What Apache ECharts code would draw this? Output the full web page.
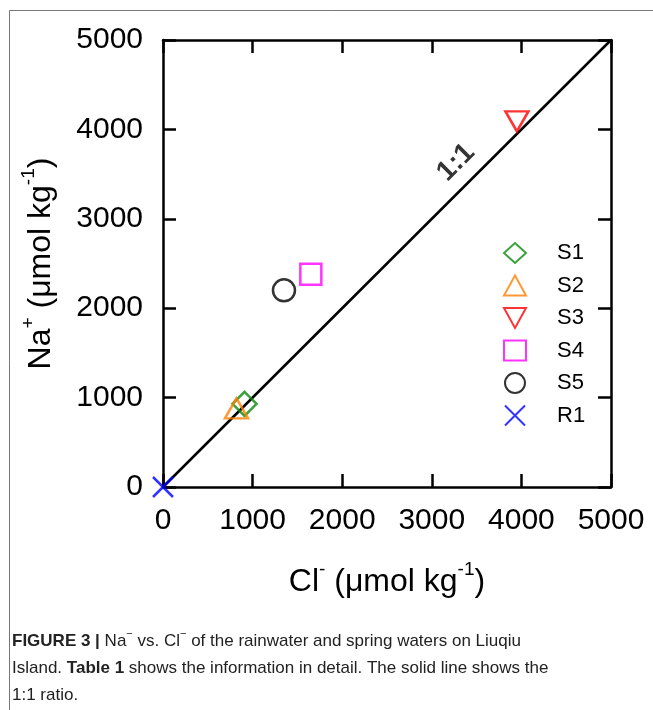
<!DOCTYPE html>
<html>
<head>
<meta charset="utf-8">
<script src="https://cdn.jsdelivr.net/npm/echarts@6/dist/echarts.min.js"></script>
<style>html,body{margin:0;padding:0;background:#fff}#c{width:653px;height:710px}</style>
</head>
<body>
<div id="c"></div>
<script>
// ---- data ----
const sampleNames = ['S1', 'S2', 'S3', 'S4', 'S5', 'R1'];
const clValues = [910, 820, 3950, 1650, 1350, 0];
const naValues = [930, 880, 4090, 2380, 2200, 0];
const sampleColors = ['#0a8a0a', '#ff8000', '#ff0000', '#ff00ff', '#000000', '#0000ff'];
const sampleSymbols = ['diamond', 'path://M5,0L10,9L0,9Z', 'path://M0,0L10,0L5,9Z', 'rect', 'circle', 'path://M0,0L10,10M10,0L0,10'];
const sampleSizes = [[24, 24], [23, 20], [23, 20], [21, 21], [22, 22], [20, 20]];
const oneToOne = [[0, 0], [5000, 5000]];
const ratioLabelPos = [[3270, 3630]];
const axisMin = 0, axisMax = 5000, axisStep = 1000;

const chart = echarts.init(document.getElementById('c'));
const font = 'Liberation Sans, Arial, sans-serif';

const scatterSeries = sampleNames.map((n, i) => ({
  name: n,
  type: 'scatter',
  data: [[clValues[i], naValues[i]]],
  symbol: sampleSymbols[i],
  symbolSize: sampleSizes[i],
  itemStyle: { color: 'rgba(0,0,0,0)', borderColor: sampleColors[i], borderWidth: 2.5 },
  emphasis: { disabled: true },
  z: 5
}));

const supRich = {
  n: { fontSize: 32, fontFamily: font, color: '#000', lineHeight: 38, verticalAlign: 'bottom' },
  s: { fontSize: 19, fontFamily: font, color: '#000', lineHeight: 38, verticalAlign: 'top' }
};

const tickStyle = { inside: true, length: 13, lineStyle: { color: '#000', width: 2.5 } };
const lineStyle = { onZero: false, lineStyle: { color: '#000', width: 2.5 } };
const labelFmt = v => String(v);

const option = {
  animation: false,
  backgroundColor: '#fff',
  grid: { left: 163, right: 42, top: 40, height: 447 },
  legend: {
    orient: 'vertical',
    left: 498, top: 237,
    itemWidth: 22, itemHeight: 20, itemGap: 10.5,
    data: sampleNames,
    textStyle: { fontSize: 22, fontFamily: font, color: '#000', padding: [0, 0, 0, 26] }
  },
  xAxis: [{
    type: 'value', min: axisMin, max: axisMax, interval: axisStep,
    position: 'bottom',
    axisLine: lineStyle,
    axisTick: tickStyle,
    axisLabel: { fontSize: 30, fontFamily: font, color: '#000', margin: 19, formatter: labelFmt },
    splitLine: { show: false },
    name: '{n|Cl}{s|-}{n| (μmol kg}{s|-1}{n|)}',
    nameLocation: 'middle', nameGap: 73,
    nameTextStyle: { rich: supRich }
  }, {
    type: 'value', min: axisMin, max: axisMax, interval: axisStep,
    position: 'top',
    axisLine: lineStyle,
    axisTick: tickStyle,
    axisLabel: { show: false },
    splitLine: { show: false }
  }],
  yAxis: [{
    type: 'value', min: axisMin, max: axisMax, interval: axisStep,
    position: 'left',
    axisLine: lineStyle,
    axisTick: tickStyle,
    axisLabel: { fontSize: 30, fontFamily: font, color: '#000', margin: 20, formatter: labelFmt },
    splitLine: { show: false },
    name: '{n|Na}{s|+}{n| (μmol kg}{s|-1}{n|)}',
    nameLocation: 'middle', nameGap: 106,
    nameTextStyle: { rich: supRich }
  }, {
    type: 'value', min: axisMin, max: axisMax, interval: axisStep,
    position: 'right',
    axisLine: lineStyle,
    axisTick: tickStyle,
    axisLabel: { show: false },
    splitLine: { show: false }
  }],
  series: [
    {
      type: 'line', data: oneToOne, symbol: 'none',
      lineStyle: { color: '#000', width: 2.5 }, z: 3, silent: true
    },
    {
      type: 'scatter', data: ratioLabelPos, symbolSize: 0, silent: true,
      label: {
        show: true, position: 'inside', formatter: '1:1', rotate: 45,
        fontSize: 28, fontWeight: 'bold', fontFamily: font, color: '#000'
      }
    }
  ].concat(scatterSeries),
  graphic: [
    {
      type: 'rect', left: 7, top: 8, silent: true,
      shape: { width: 700, height: 760 },
      style: { fill: 'none', stroke: '#777', lineWidth: 1 }
    },
    {
      type: 'text', left: 12, top: 628, silent: true,
      style: {
        text: '{b|FIGURE 3 |} Na{u|−} vs. Cl{u|−} of the rainwater and spring waters on Liuqiu\nIsland. {b|Table 1} shows the information in detail. The solid line shows the\n1:1 ratio.',
        fontSize: 17, fontFamily: font,
        fill: '#222', lineHeight: 27,
        rich: {
          b: { fontWeight: 'bold', fontSize: 17, fontFamily: font, fill: '#222', lineHeight: 27 },
          u: { fontSize: 11, verticalAlign: 'top', fontFamily: font, fill: '#222', lineHeight: 27 }
        }
      }
    }
  ]
};
chart.setOption(option);
</script>
</body>
</html>
